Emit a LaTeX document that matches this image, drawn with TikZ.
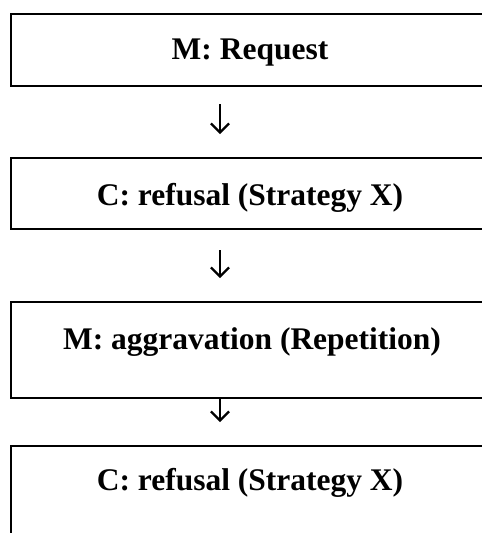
\documentclass[tikz,border=0pt]{standalone}
\usepackage{fontspec}
\setmainfont{Liberation Serif}
\usetikzlibrary{arrows.meta}
\begin{document}
\begin{tikzpicture}[x=1pt,y=-1pt,
  box/.style={draw=black,line width=1.8pt,rectangle,inner sep=0pt,minimum width=480pt,anchor=north west},
  lbl/.style={font=\fontsize{31.5}{36}\selectfont\bfseries,anchor=base,inner sep=0pt},
  flow/.style={line width=1.8pt,-{Straight Barb[length=9pt,width=18pt,line width=2.2pt]}}]
\useasboundingbox (0,0) rectangle (482,533);
\clip (0,0) rectangle (482,533);
\node[box,minimum height=72.3pt] (b1) at (10,12.7) {};
\node[box,minimum height=71pt] (b2) at (10,157) {};
\node[box,minimum height=96pt] (b3) at (10,301) {};
\node[box,minimum height=110pt] (b4) at (10,445) {};
\node[lbl] (t1) at (250,59.3) {M: Request};
\node[lbl] (t2) at (250,205.5) {C: refusal (Strategy X)};
\node[lbl] (t3) at (252,349) {M: aggravation (Repetition)};
\node[lbl] (t4) at (250,490) {C: refusal (Strategy X)};
\coordinate (a1s) at (220,104);
\coordinate (a1e) at (220,134);
\coordinate (a2s) at (220,250);
\coordinate (a2e) at (220,278);
\coordinate (a3e) at (220,422);
\draw[flow] (a1s) -- (a1e);
\draw[flow] (a2s) -- (a2e);
\draw[flow] (b3.south west -| a3e) -- (a3e);
\end{tikzpicture}
\end{document}
